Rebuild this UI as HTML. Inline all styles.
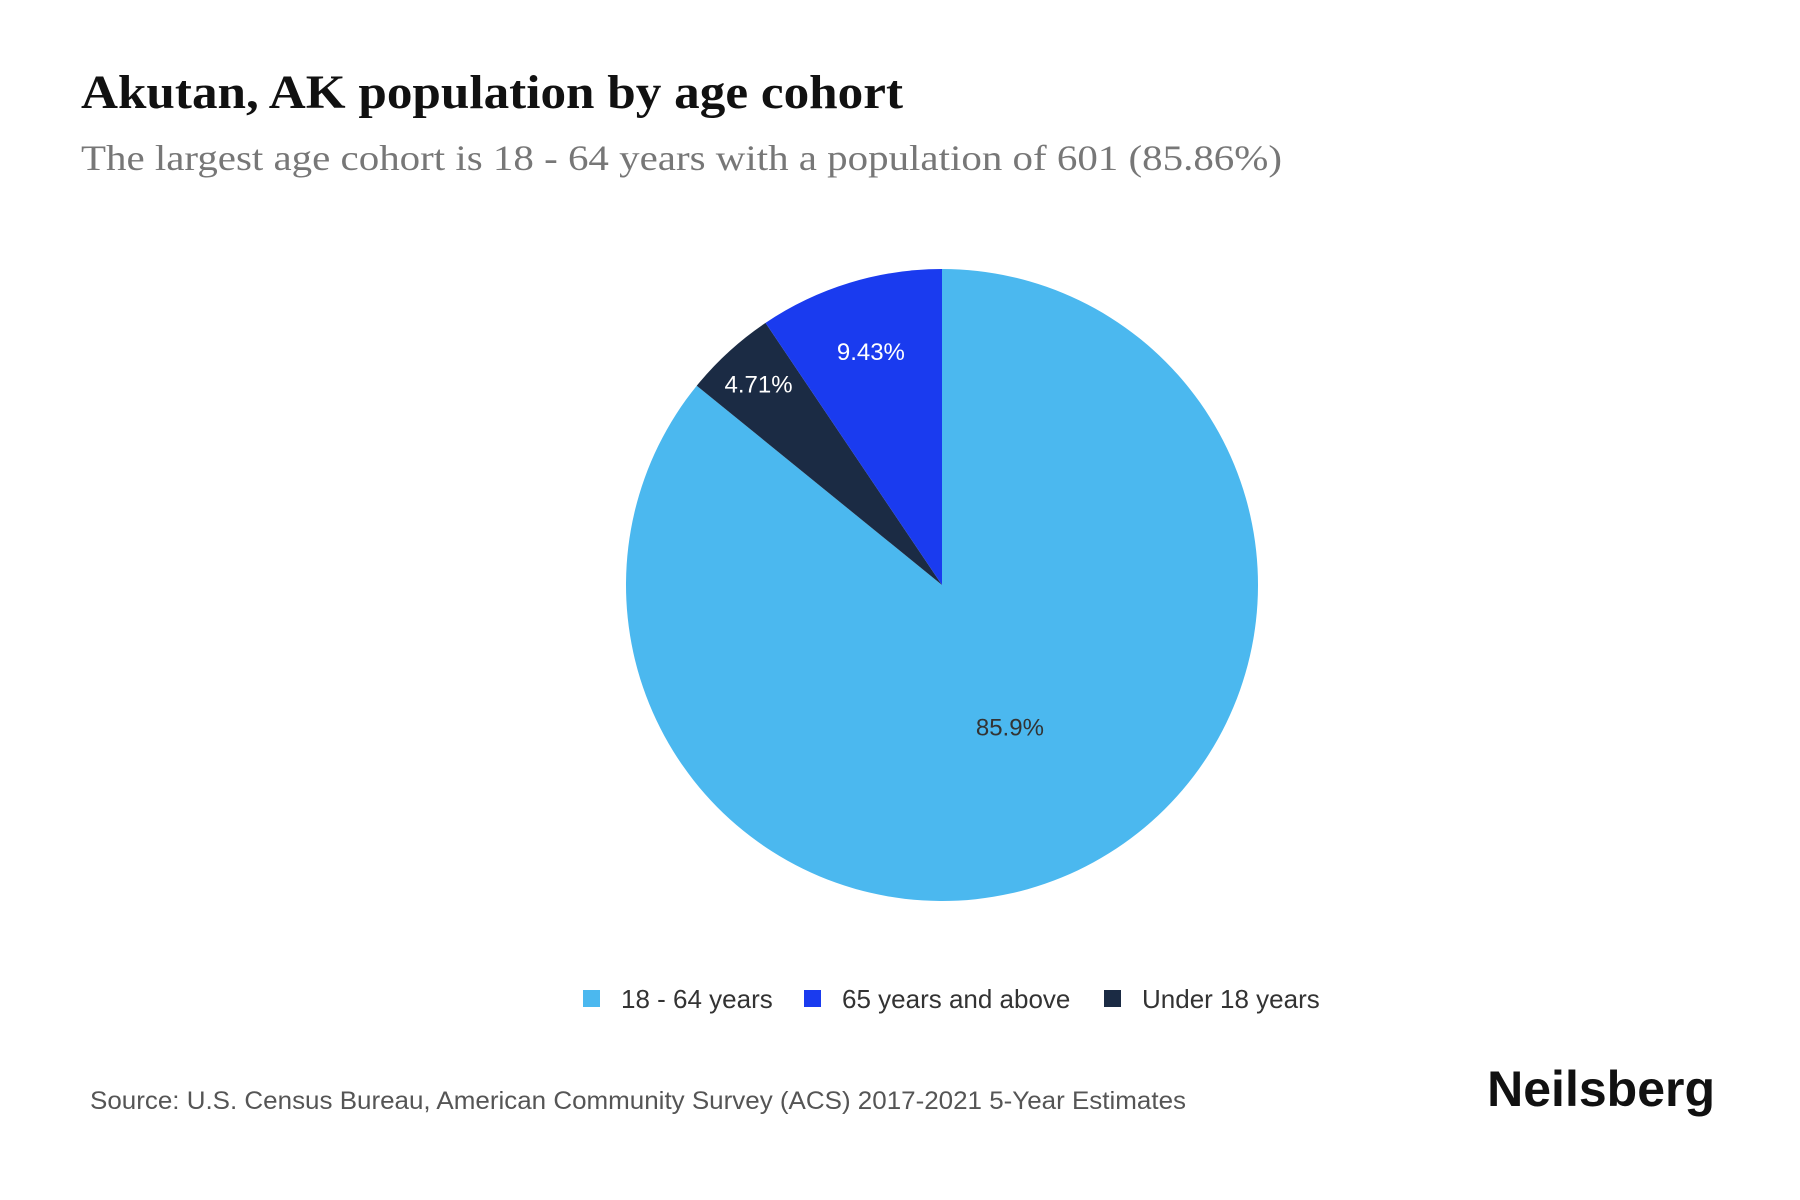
<!DOCTYPE html>
<html><head><meta charset="utf-8"><style>
body{margin:0;background:#fff;}
svg{display:block;}
</style></head><body>
<svg id="chart" width="1800" height="1200" viewBox="0 0 1800 1200" xmlns="http://www.w3.org/2000/svg">
<text x="81" y="108" textLength="822" lengthAdjust="spacingAndGlyphs" font-family="Liberation Serif, serif" font-weight="bold" font-size="48" fill="#111">Akutan, AK population by age cohort</text>
<text x="81" y="170" textLength="1201" lengthAdjust="spacingAndGlyphs" font-family="Liberation Serif, serif" font-size="36" fill="#777">The largest age cohort is 18 - 64 years with a population of 601 (85.86%)</text>
<g id="pie"></g>
<g id="legend"></g>
<text x="90" y="1109" textLength="1096" lengthAdjust="spacingAndGlyphs" font-family="Liberation Sans, sans-serif" font-size="25" fill="#555">Source: U.S. Census Bureau, American Community Survey (ACS) 2017-2021 5-Year Estimates</text>
<text x="1715" y="1106" text-anchor="end" font-family="Liberation Sans, sans-serif" font-weight="bold" font-size="50" fill="#111">Neilsberg</text>
</svg>
<script>
const drawOrder = ["18 - 64 years", "Under 18 years", "65 years and above"];
const values = [85.86, 4.71, 9.43];
const labels = ["85.9%", "4.71%", "9.43%"];
const colors = ["#4bb8ef", "#1b2b44", "#1a3bef"];
const labelColors = ["#333", "#fff", "#fff"];
const legendNames = ["18 - 64 years", "65 years and above", "Under 18 years"];
const legendColors = ["#4bb8ef", "#1a3bef", "#1b2b44"];

const NS = "http://www.w3.org/2000/svg";
const cx = 942, cy = 585, r = 316;
const pie = document.getElementById('pie');
const total = values.reduce((a,b)=>a+b,0);
function pt(a, rr){ return [cx + rr*Math.sin(a), cy - rr*Math.cos(a)]; }
let start = 0;
values.forEach((v,i)=>{
  const ang = v/total*2*Math.PI;
  const end = start + ang;
  const [x1,y1] = pt(start,r), [x2,y2] = pt(end,r);
  const p = document.createElementNS(NS,'path');
  p.setAttribute('d', `M${cx},${cy} L${x1},${y1} A${r},${r} 0 ${ang>Math.PI?1:0} 1 ${x2},${y2} Z`);
  p.setAttribute('fill', colors[i]);
  
  
  pie.appendChild(p);
  const mid = start + ang/2;
  const lr = ang > Math.PI ? r*0.5 : r*(0.95 - v/total*1.9);
  const [lx,ly] = pt(mid, lr);
  const t = document.createElementNS(NS,'text');
  t.setAttribute('x', lx); t.setAttribute('y', ly + 8);
  t.setAttribute('text-anchor','middle');
  t.setAttribute('font-family','Liberation Sans, sans-serif');
  t.setAttribute('font-size','24');
  t.setAttribute('fill', labelColors[i]);
  t.textContent = labels[i];
  
  
  pie.appendChild(t);
  start = end;
});
const legend = document.getElementById('legend');
const lx0 = [583, 804, 1104];
legendNames.forEach((n,i)=>{
  const g = document.createElementNS(NS,'g');
  
  
  const s = document.createElementNS(NS,'rect');
  s.setAttribute('x', lx0[i]); s.setAttribute('y', 990);
  s.setAttribute('width', 17); s.setAttribute('height', 17);
  s.setAttribute('fill', legendColors[i]);
  g.appendChild(s);
  const t = document.createElementNS(NS,'text');
  t.setAttribute('x', lx0[i]+38); t.setAttribute('y', 1008);
  t.setAttribute('font-family','Liberation Sans, sans-serif');
  t.setAttribute('font-size','26');
  t.setAttribute('fill','#333');
  t.textContent = n;
  g.appendChild(t);
  legend.appendChild(g);
});
</script>
</body></html>
